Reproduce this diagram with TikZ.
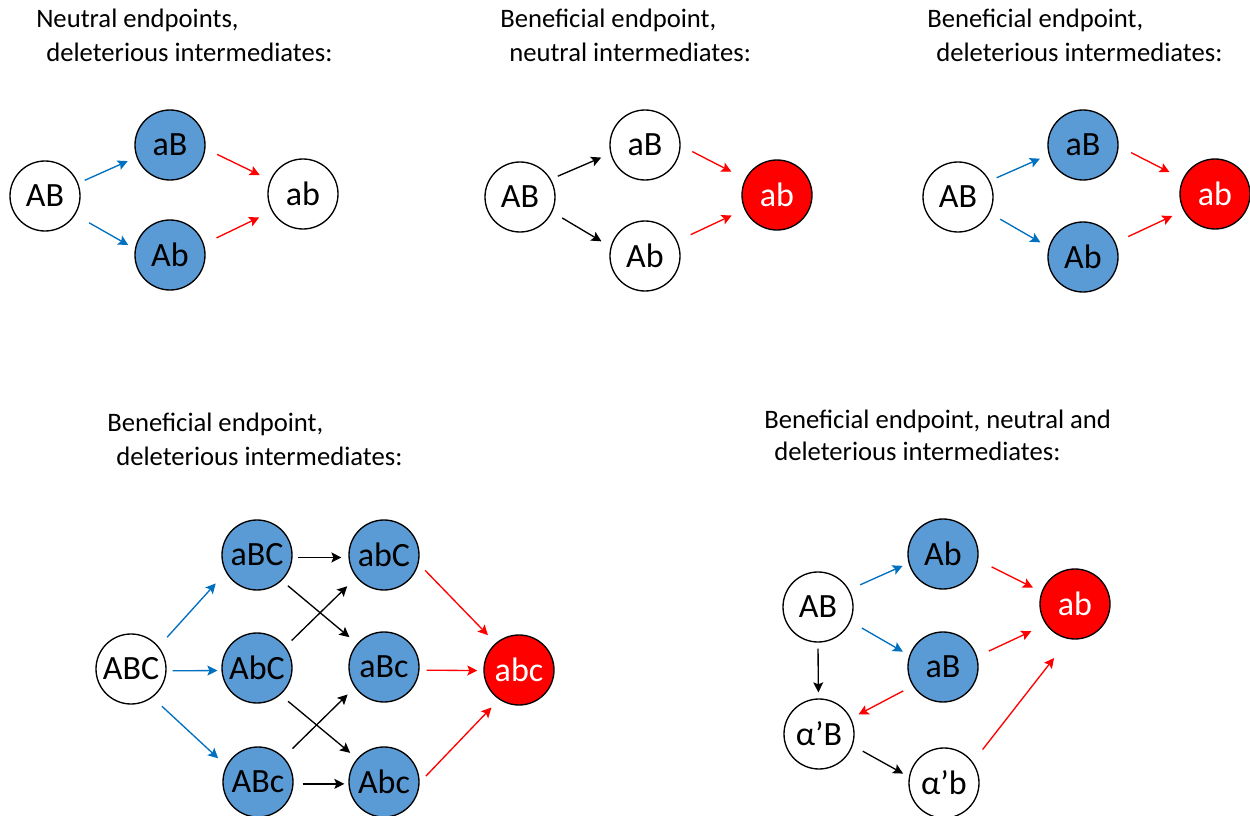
\documentclass[tikz,border=0pt]{standalone}
\usepackage{fontspec}
\setmainfont{Carlito}
\usetikzlibrary{arrows.meta}
\definecolor{nblue}{HTML}{5B9BD5}
\definecolor{ablue}{HTML}{0070C0}
\definecolor{nred}{HTML}{FF0000}
\tikzset{
  st/.style={circle, draw=black, line width=1pt, minimum size=52.5pt, inner sep=0pt, font=\fontsize{25.5}{30}\selectfont},
  wt/.style={st, fill=white},
  bl/.style={st, fill=nblue},
  rd/.style={st, fill=nred, text=white},
  arw/.style={line width=1pt, -{Stealth[length=7.5pt,width=7.5pt,inset=1.5pt]}},
  arB/.style={arw, draw=ablue},
  arK/.style={arw, draw=black},
  arR/.style={arw, draw=nred},
  gp/.style 2 args={shorten <=#1*0.75pt, shorten >=#2*0.75pt},
  ttl/.style={anchor=base west, inner sep=0pt, font=\fontsize{20}{24}\selectfont},
}
\begin{document}
\begin{tikzpicture}[x=0.75pt, y=-0.75pt]
\useasboundingbox (0,0) rectangle (1250,816);
\fill[white] (0,0) rectangle (1250,816);

% titles
\node[ttl] (t1a) at (36,28) {Neutral endpoints,};
\node[ttl] (t1b) at (46,62) {deleterious intermediates:};
\node[ttl] (t2a) at (500,28) {Beneficial endpoint,};
\node[ttl] (t2b) at (509,62) {neutral intermediates:};
\node[ttl] (t3a) at (927,28) {Beneficial endpoint,};
\node[ttl] (t3b) at (936,62) {deleterious intermediates:};
\node[ttl] (t4a) at (107,432) {Beneficial endpoint,};
\node[ttl] (t4b) at (116,465) {deleterious intermediates:};
\node[ttl] (t5a) at (764,429) {Beneficial endpoint, neutral and};
\node[ttl] (t5b) at (774,461) {deleterious intermediates:};

% panel 1
\node[wt] (p1AB) at (45,196) {AB};
\node[bl] (p1aB) at (170,145) {aB};
\node[bl] (p1Ab) at (170,255) {Ab};
\node[wt] (p1ab) at (303,194) {ab};
\draw[arB, gp={7}{9.6}] (p1AB.21) -- (p1aB.200);
\draw[arB, gp={16}{7.6}] (p1AB.-32) -- (p1Ab.170);
\draw[arR, gp={13}{11.6}] (p1aB.-6) -- (p1ab.157);
\draw[arR, gp={14}{14}] (p1Ab.18) -- (p1ab.209);

% panel 2
\node[wt] (p2AB) at (520,197) {AB};
\node[wt] (p2aB) at (645,145) {aB};
\node[wt] (p2Ab) at (645,256) {Ab};
\node[rd] (p2ab) at (777,195) {ab};
\draw[arK, gp={7.5}{10}] (p2AB.30) -- (p2aB.194);
\draw[arK, gp={11.5}{10.6}] (p2AB.-25) -- (p2Ab.165);
\draw[arR, gp={13}{15.5}] (p2aB.-1) -- (p2ab.153);
\draw[arR, gp={14.7}{14}] (p2Ab.25) -- (p2ab.204);

% panel 3
\node[wt] (p3AB) at (958,197) {AB};
\node[bl] (p3aB) at (1083,145) {aB};
\node[bl] (p3Ab) at (1083,257) {Ab};
\node[rd] (p3ab) at (1215,194) {ab};
\draw[arB, gp={7.5}{9.6}] (p3AB.27) -- (p3aB.196);
\draw[arB, gp={12}{9.6}] (p3AB.-27) -- (p3Ab.164);
\draw[arR, gp={14}{14.7}] (p3aB.-2) -- (p3ab.155);
\draw[arR, gp={14}{12.4}] (p3Ab.24) -- (p3ab.208);

% panel 4
\node[wt] (p4ABC) at (131,669) {ABC};
\node[bl] (p4aBC) at (257,555) {aBC};
\node[bl] (p4AbC) at (257,668) {AbC};
\node[bl] (p4ABc) at (258,782) {ABc};
\node[bl] (p4abC) at (384,555) {abC};
\node[bl] (p4aBc) at (384,667) {aBc};
\node[bl] (p4Abc) at (384,782) {Abc};
\node[rd] (p4abc) at (519,670) {abc};
\draw[arB, gp={12.6}{15}] (p4ABC.39) -- (p4aBC.209);
\draw[arB, gp={6}{4}] (p4ABC.-3) -- (p4AbC.184);
\draw[arB, gp={12.8}{11}] (p4ABC.-53) -- (p4ABc.153);
\draw[arK, gp={5}{7}] (p4aBC.-4) -- (p4abC.184);
\draw[arK, gp={8}{10}] (p4aBC.-46) -- (p4aBc.139);
\draw[arK, gp={8.6}{12.6}] (p4AbC.37) -- (p4abC.219);
\draw[arK, gp={10}{9}] (p4AbC.-49) -- (p4Abc.139);
\draw[arK, gp={12.4}{10}] (p4ABc.44) -- (p4aBc.215);
\draw[arK, gp={9}{4}] (p4ABc.-3) -- (p4Abc.183);
\draw[arR, gp={9.4}{11}] (p4abC.-14) -- (p4abc.131);
\draw[arR, gp={7}{6}] (p4aBc.-5) -- (p4abc.181);
\draw[arR, gp={9}{11}] (p4Abc.-1) -- (p4abc.236);

% panel 5
\node[wt] (p5AB) at (818,607) {AB};
\node[bl] (p5Ab) at (943,554) {Ab};
\node[bl] (p5aB) at (943,667) {aB};
\node[rd] (p5ab) at (1075,604) {ab};
\node[wt] (p5alB) at (819,734) {α’B};
\node[wt] (p5alb) at (944,783) {α’b};
\draw[arB, gp={12}{6.5}] (p5AB.29) -- (p5Ab.195);
\draw[arB, gp={13}{7.4}] (p5AB.-24) -- (p5aB.161);
\draw[arR, gp={15}{9.6}] (p5Ab.-10) -- (p5ab.160);
\draw[arR, gp={13}{16}] (p5aB.17) -- (p5ab.215);
\draw[arK, gp={6}{6}] (p5AB.-90) -- (p5alB.91);
\draw[arR, gp={10.8}{8.4}] (p5aB.212) -- (p5alB.26);
\draw[arK, gp={11.5}{6.6}] (p5alB.-19) -- (p5alb.170);
\draw[arR, gp={15.8}{24}] (p5alb.36) -- (p5ab.260);
\end{tikzpicture}
\end{document}
